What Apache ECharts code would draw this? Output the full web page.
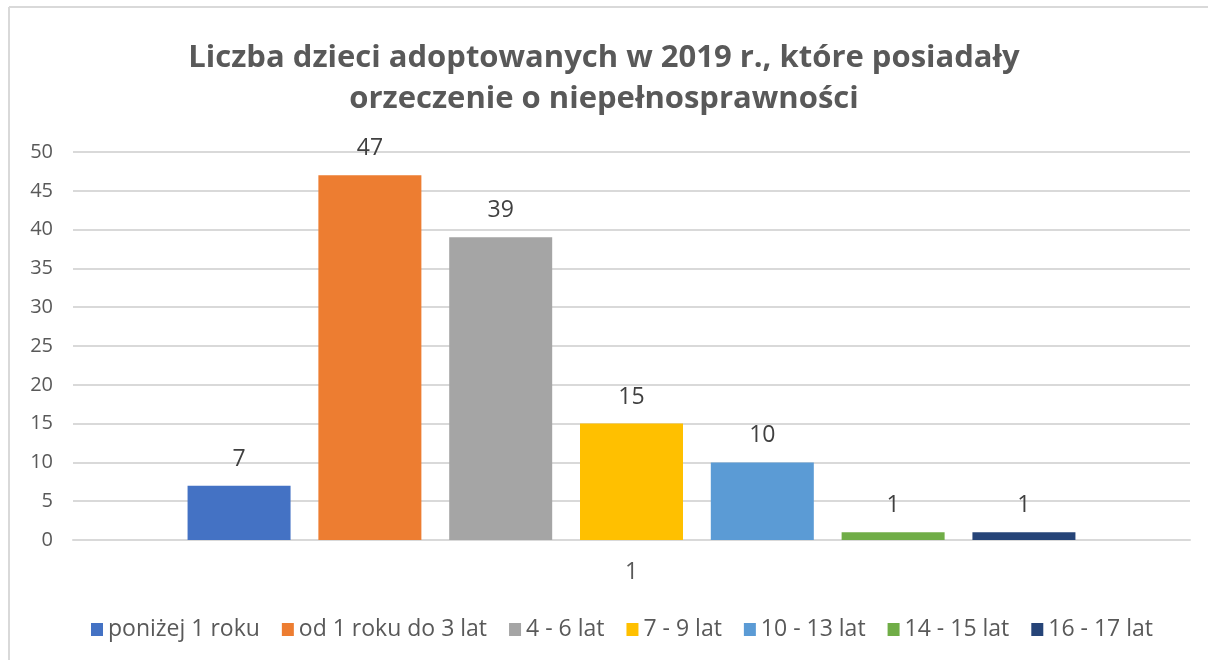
<!DOCTYPE html>
<html>
<head>
<meta charset="utf-8">
<script src="https://cdn.jsdelivr.net/npm/echarts@6/dist/echarts.min.js"></script>
<style>
  html, body { margin: 0; padding: 0; background: #fff; }
  #chart { width: 1208px; height: 660px; }
</style>
</head>
<body>
<div id="chart"></div>
<script>
// dane wykresu
var categories = ['1'];
var seriesNames = ['poniżej 1 roku', 'od 1 roku do 3 lat', '4 - 6 lat', '7 - 9 lat', '10 - 13 lat', '14 - 15 lat', '16 - 17 lat'];
var seriesValues = [7, 47, 39, 15, 10, 1, 1];
var seriesColors = ['#4472c4', '#ed7d31', '#a5a5a5', '#ffc000', '#5b9bd5', '#70ad47', '#264478'];
var yTicks = { min: 0, max: 50, interval: 5 };

var fontFamily = '"Open Sans", sans-serif';

var series = [];
for (var i = 0; i < seriesNames.length; i++) {
    series.push({
        name: seriesNames[i],
        type: 'bar',
        data: [seriesValues[i]],
        barWidth: 103,
        barGap: '27%',
        itemStyle: { color: seriesColors[i] },
        label: {
            show: true,
            position: 'top',
            distance: 15,
            color: '#404040',
            fontSize: 23,
            fontFamily: fontFamily
        }
    });
}

var chart = echarts.init(document.getElementById('chart'));
var option = {
    animation: false,
    backgroundColor: '#fff',
    title: {
        text: 'Liczba dzieci adoptowanych w 2019 r., które posiadały\norzeczenie o niepełnosprawności',
        left: 'center',
        top: 33,
        textStyle: {
            color: '#595959',
            fontSize: 31,
            fontWeight: 'bold',
            fontFamily: fontFamily,
            lineHeight: 41
        }
    },
    grid: {
        left: 73,
        right: 18,
        top: 152,
        bottom: 120
    },
    legend: {
        top: 613,
        left: 86,
        itemWidth: 12,
        itemHeight: 13,
        itemGap: 22,
        icon: 'rect',
        textStyle: {
            color: '#595959',
            fontSize: 23,
            fontFamily: fontFamily
        },
        data: seriesNames
    },
    xAxis: {
        type: 'category',
        data: categories,
        axisLine: { lineStyle: { color: '#d9d9d9', width: 2 } },
        axisTick: { show: false },
        axisLabel: {
            color: '#595959',
            fontSize: 23,
            fontFamily: fontFamily,
            margin: 21
        }
    },
    yAxis: {
        type: 'value',
        min: yTicks.min,
        max: yTicks.max,
        interval: yTicks.interval,
        axisLine: { show: false },
        axisTick: { show: false },
        splitLine: { lineStyle: { color: '#d9d9d9', width: 2 } },
        axisLabel: {
            color: '#595959',
            fontSize: 20,
            fontFamily: fontFamily,
            margin: 20
        }
    },
    graphic: [
        { type: 'line', shape: { x1: 9, y1: 7, x2: 1208, y2: 7 }, style: { stroke: '#d9d9d9', lineWidth: 2 } },
        { type: 'line', shape: { x1: 9, y1: 7, x2: 9, y2: 660 }, style: { stroke: '#d9d9d9', lineWidth: 2 } }
    ],
    series: series
};
chart.setOption(option);
</script>
</body>
</html>
